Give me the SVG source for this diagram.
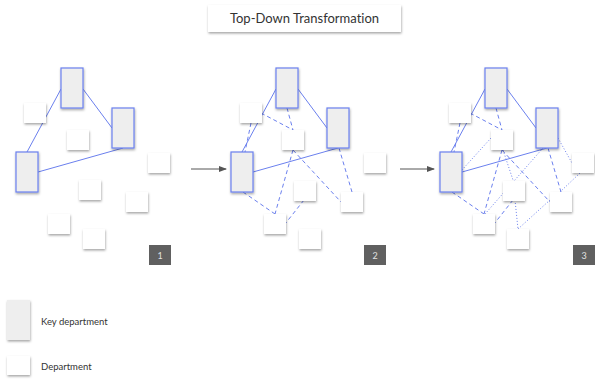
<svg xmlns="http://www.w3.org/2000/svg" width="595" height="379" viewBox="0 0 595 379">
<defs>
<filter id="sh" x="-30%" y="-30%" width="170%" height="170%">
<feDropShadow dx="0.5" dy="1.5" stdDeviation="1" flood-color="#000" flood-opacity="0.35"/>
</filter>
<marker id="ah" markerWidth="8" markerHeight="6" refX="7" refY="3" orient="auto" markerUnits="userSpaceOnUse">
<path d="M0,0 L8,3 L0,6 Z" fill="#555"/>
</marker>
</defs>
<style>
.key{fill:#eeeeee;stroke:#6b80ee;stroke-width:1.2;filter:url(#sh)}
.dep{fill:#ffffff;filter:url(#sh)}
.badge{fill:#606060}
.btxt{font-family:Lato,"Liberation Sans",sans-serif;font-size:9px;fill:#e0e0e0;text-anchor:middle}
.s{stroke:#6b80ee;stroke-width:1;fill:none}
.d{stroke:#6b80ee;stroke-width:1;fill:none;stroke-dasharray:4 3}
.o{stroke:#6b80ee;stroke-width:1;fill:none;stroke-dasharray:1 2}
.arr{stroke:#555;stroke-width:1;marker-end:url(#ah)}
text{font-variant-ligatures:none;font-feature-settings:"liga" 0,"clig" 0}
.title{font-family:Lato,"Liberation Sans",sans-serif;font-size:13px;fill:#333;text-anchor:middle}
.leg{font-family:Lato,"Liberation Sans",sans-serif;font-size:9.5px;fill:#333}
</style>
<rect width="595" height="379" fill="#fff"/>

<g id="title">
<rect x="208" y="5" width="193" height="27" class="dep"/>
<text x="304.5" y="23" class="title">Top-Down Transformation</text>
</g>

<g id="connectors">
<g id="c1">
<line class="s" x1="61" y1="89" x2="27" y2="152"/>
<line class="s" x1="83" y1="89" x2="112" y2="128"/>
<line class="s" x1="123" y1="148" x2="38" y2="172"/>
</g>
<g id="c2" transform="translate(215,0)">
<line class="s" x1="61" y1="89" x2="27" y2="152"/>
<line class="s" x1="83" y1="89" x2="112" y2="128"/>
<line class="s" x1="123" y1="148" x2="38" y2="172"/>
<line class="d" x1="36" y1="123" x2="30" y2="152"/>
<line class="d" x1="46" y1="113" x2="78" y2="130"/>
<line class="d" x1="72" y1="108" x2="78" y2="130"/>
<line class="d" x1="78" y1="150" x2="60" y2="214"/>
<line class="d" x1="78" y1="150" x2="126" y2="202"/>
<line class="d" x1="124" y1="148" x2="137" y2="192"/>
<line class="d" x1="28" y1="192" x2="60" y2="214"/>
<line class="d" x1="89" y1="200" x2="70" y2="224"/>
</g>
<g id="c3" transform="translate(424,0)">
<line class="s" x1="61" y1="89" x2="27" y2="152"/>
<line class="s" x1="83" y1="89" x2="112" y2="128"/>
<line class="s" x1="123" y1="148" x2="38" y2="172"/>
<line class="d" x1="36" y1="123" x2="30" y2="152"/>
<line class="d" x1="46" y1="113" x2="78" y2="130"/>
<line class="d" x1="72" y1="108" x2="78" y2="130"/>
<line class="d" x1="78" y1="150" x2="60" y2="214"/>
<line class="d" x1="78" y1="150" x2="126" y2="202"/>
<line class="d" x1="124" y1="148" x2="137" y2="192"/>
<line class="d" x1="28" y1="192" x2="60" y2="214"/>
<line class="d" x1="89" y1="200" x2="70" y2="224"/>
<line class="o" x1="38" y1="170" x2="67" y2="138"/>
<line class="o" x1="119" y1="148" x2="61" y2="214"/>
<line class="o" x1="79" y1="150" x2="89" y2="180"/>
<line class="o" x1="134" y1="138" x2="148" y2="163"/>
<line class="o" x1="156" y1="173" x2="136" y2="192"/>
<line class="o" x1="91" y1="200" x2="94" y2="229"/>
<line class="o" x1="126" y1="200" x2="94" y2="229"/>
</g>
<line id="arrow1" class="arr" x1="191" y1="169" x2="226" y2="169"/>
<line id="arrow2" class="arr" x1="400" y1="169" x2="434" y2="169"/>
</g>

<g id="panel1">
<g id="p1-A"><rect class="key" x="61" y="68" width="22" height="40"/></g>
<g id="p1-B"><rect class="key" x="112" y="108" width="22" height="40"/></g>
<g id="p1-C"><rect class="key" x="16" y="152" width="22" height="40"/></g>
<g id="p1-W1"><rect class="dep" x="24" y="103" width="22" height="20"/></g>
<g id="p1-W2"><rect class="dep" x="67" y="130" width="22" height="20"/></g>
<g id="p1-W3"><rect class="dep" x="148" y="153" width="22" height="20"/></g>
<g id="p1-W4"><rect class="dep" x="79" y="180" width="22" height="20"/></g>
<g id="p1-W5"><rect class="dep" x="126" y="192" width="22" height="20"/></g>
<g id="p1-W6"><rect class="dep" x="48" y="214" width="22" height="20"/></g>
<g id="p1-W7"><rect class="dep" x="83" y="229" width="22" height="20"/></g>
<g id="p1-badge"><rect class="badge" x="149" y="245" width="22" height="20"/><text class="btxt" x="160" y="258.5">1</text></g>
</g>

<g id="panel2" transform="translate(215,0)">
<g id="p2-A"><rect class="key" x="61" y="68" width="22" height="40"/></g>
<g id="p2-B"><rect class="key" x="112" y="108" width="22" height="40"/></g>
<g id="p2-C"><rect class="key" x="16" y="152" width="22" height="40"/></g>
<g id="p2-W1"><rect class="dep" x="25" y="103" width="22" height="20"/></g>
<g id="p2-W2"><rect class="dep" x="67" y="130" width="22" height="20"/></g>
<g id="p2-W3"><rect class="dep" x="149" y="153" width="22" height="20"/></g>
<g id="p2-W4"><rect class="dep" x="79" y="181" width="22" height="20"/></g>
<g id="p2-W5"><rect class="dep" x="126" y="192" width="22" height="20"/></g>
<g id="p2-W6"><rect class="dep" x="49" y="214" width="22" height="20"/></g>
<g id="p2-W7"><rect class="dep" x="84" y="229" width="22" height="20"/></g>
<g id="p2-badge"><rect class="badge" x="149" y="245" width="22" height="20"/><text class="btxt" x="160" y="258.5">2</text></g>
</g>

<g id="panel3" transform="translate(424,0)">
<g id="p3-A"><rect class="key" x="61" y="68" width="22" height="40"/></g>
<g id="p3-B"><rect class="key" x="112" y="108" width="22" height="40"/></g>
<g id="p3-C"><rect class="key" x="16" y="152" width="22" height="40"/></g>
<g id="p3-W1"><rect class="dep" x="25" y="103" width="22" height="20"/></g>
<g id="p3-W2"><rect class="dep" x="67" y="130" width="22" height="20"/></g>
<g id="p3-W3"><rect class="dep" x="148" y="153" width="22" height="20"/></g>
<g id="p3-W4"><rect class="dep" x="79" y="181" width="22" height="20"/></g>
<g id="p3-W5"><rect class="dep" x="126" y="192" width="22" height="20"/></g>
<g id="p3-W6"><rect class="dep" x="49" y="214" width="22" height="20"/></g>
<g id="p3-W7"><rect class="dep" x="83" y="229" width="22" height="20"/></g>
<g id="p3-badge"><rect class="badge" x="149" y="245" width="22" height="20"/><text class="btxt" x="160" y="258.5">3</text></g>
</g>

<g id="legend-key">
<rect x="7" y="300" width="23" height="40" fill="#eeeeee" filter="url(#sh)"/>
<text class="leg" x="41" y="325">Key department</text>
</g>
<g id="legend-dep">
<rect class="dep" x="7" y="356" width="23" height="19"/>
<text class="leg" x="41" y="370">Department</text>
</g>
</svg>
